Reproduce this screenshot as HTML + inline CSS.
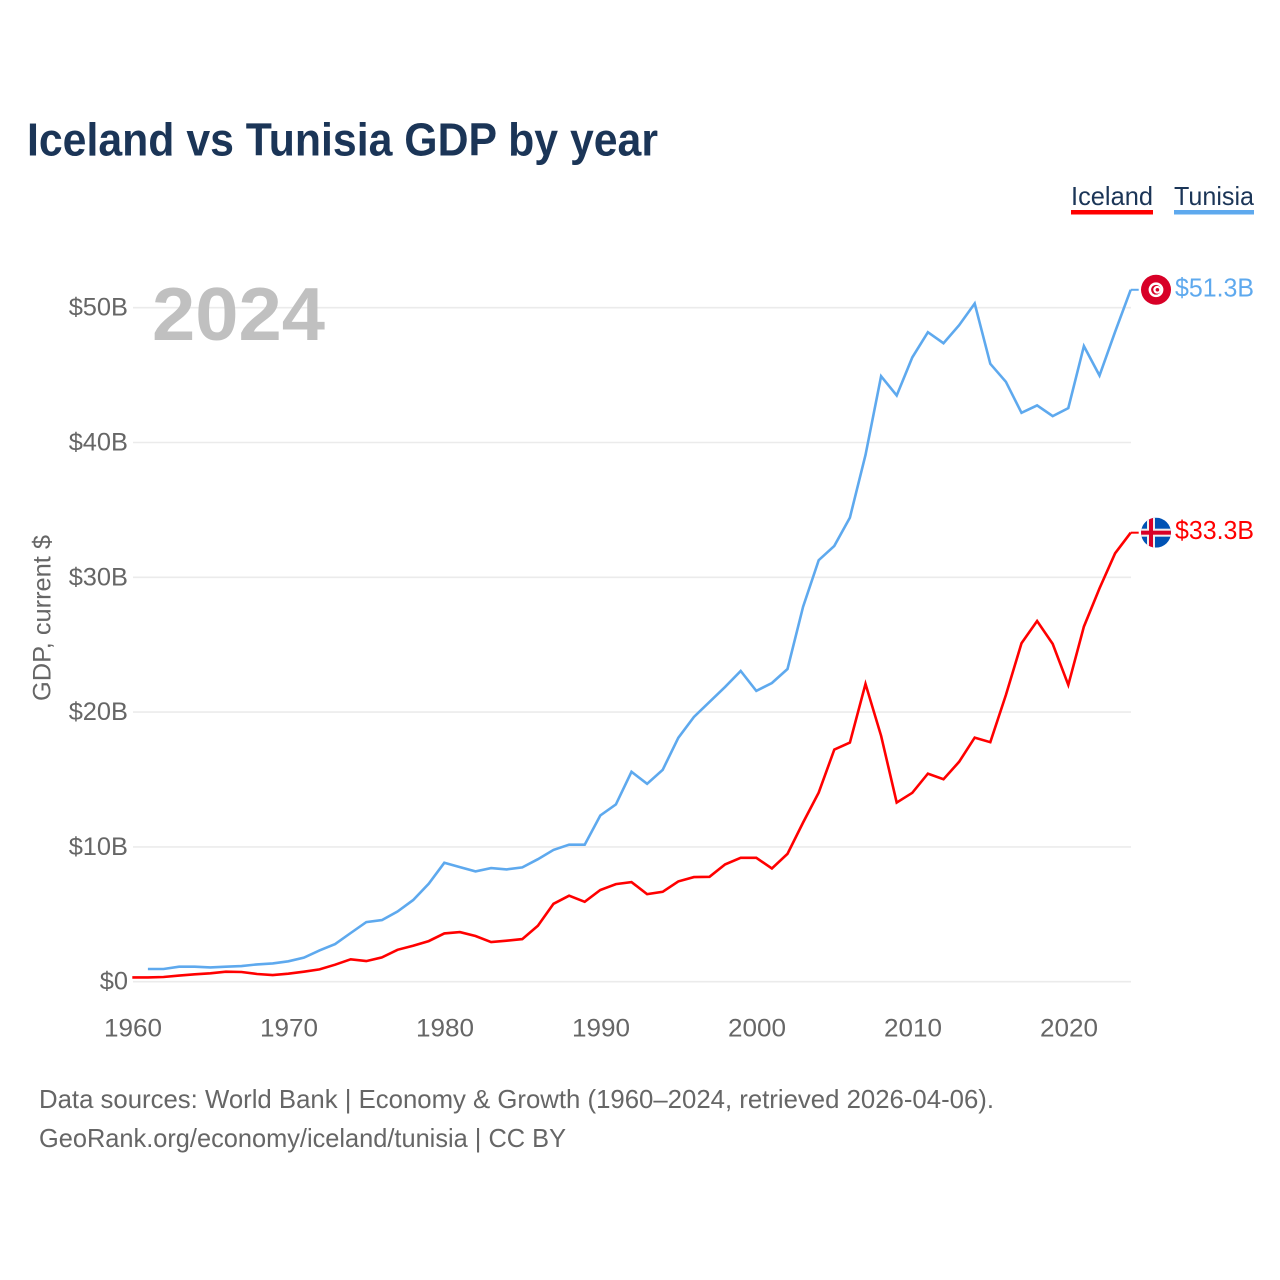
<!DOCTYPE html>
<html lang="en">
<head>
<meta charset="utf-8">
<title>Iceland vs Tunisia GDP by year</title>
<style>
html,body{margin:0;padding:0;background:#fff;width:1280px;height:1280px;overflow:hidden}
svg{display:block;font-family:"Liberation Sans",sans-serif}
</style>
</head>
<body>
<svg id="chart" width="1280" height="1280" viewBox="0 0 1280 1280" xmlns="http://www.w3.org/2000/svg">
  <rect width="1280" height="1280" fill="#fff"/>
  <text x="27" y="155.5" font-size="46" font-weight="700" fill="#1b3557" textLength="631" lengthAdjust="spacingAndGlyphs">Iceland vs Tunisia GDP by year</text>
  <g id="grid"></g>
  <text x="152" y="340" font-size="75" font-weight="700" fill="#c0c0c0" textLength="173" lengthAdjust="spacingAndGlyphs">2024</text>
  <g id="yticks"></g>
  <g id="xticks"></g>
  <text transform="translate(50.5,701) rotate(-90)" font-size="25" fill="#666" textLength="166" lengthAdjust="spacingAndGlyphs">GDP, current $</text>
  <g id="series"></g>

  <g>
    <g>
      <text x="1071" y="205" font-size="26" fill="#1b3557" textLength="82" lengthAdjust="spacingAndGlyphs">Iceland</text>
      <rect x="1071" y="210" width="82" height="4.5" fill="#ff0000"/>
    </g>
    <g>
      <text x="1174" y="205" font-size="26" fill="#1b3557" textLength="80" lengthAdjust="spacingAndGlyphs">Tunisia</text>
      <rect x="1174" y="210" width="80" height="4.5" fill="#5ea9ee"/>
    </g>
  </g>

  <g id="flag-tunisia">
    <circle cx="0" cy="0" r="15" fill="#d80027"/>
    <circle cx="0" cy="0" r="7.4" fill="#fff"/>
    <circle cx="0" cy="0" r="4.9" fill="#d80027"/>
    <circle cx="1.2" cy="0" r="3.9" fill="#fff"/>
    <circle cx="1.4" cy="0" r="1.8" fill="#d80027"/>
  </g>
  <g id="flag-iceland">
    <clipPath id="ic-clip"><circle cx="0" cy="0" r="15"/></clipPath>
    <g clip-path="url(#ic-clip)">
      <rect x="-15" y="-15" width="30" height="30" fill="#0052b4"/>
      <rect x="-9" y="-15" width="8" height="30" fill="#f0f0f0"/>
      <rect x="-15" y="-4" width="30" height="8" fill="#f0f0f0"/>
      <rect x="-7" y="-15" width="4" height="30" fill="#d80027"/>
      <rect x="-15" y="-2" width="30" height="4" fill="#d80027"/>
    </g>
  </g>
  <text id="value-tunisia" x="1175" font-size="26" fill="#5ea9ee" textLength="79" lengthAdjust="spacingAndGlyphs"></text>
  <text id="value-iceland" x="1175" font-size="26" fill="#ff0000" textLength="79" lengthAdjust="spacingAndGlyphs"></text>

  <text x="39" y="1108" font-size="26" fill="#666" textLength="955" lengthAdjust="spacingAndGlyphs">Data sources: World Bank | Economy &amp; Growth (1960–2024, retrieved 2026-04-06).</text>
  <text x="39" y="1147" font-size="26" fill="#666" textLength="527" lengthAdjust="spacingAndGlyphs">GeoRank.org/economy/iceland/tunisia | CC BY</text>
</svg>
<script>
const startYear = 1960;
const icelandGdp = [0.32,0.32,0.35,0.45,0.55,0.62,0.74,0.72,0.57,0.49,0.59,0.74,0.91,1.26,1.66,1.53,1.80,2.37,2.67,3.01,3.58,3.68,3.39,2.94,3.04,3.16,4.15,5.78,6.38,5.93,6.80,7.24,7.39,6.50,6.67,7.44,7.76,7.78,8.70,9.19,9.19,8.40,9.49,11.81,14.03,17.22,17.74,22.09,18.24,13.29,14.01,15.44,15.02,16.31,18.11,17.77,21.27,25.11,26.76,25.06,22.02,26.34,29.18,31.78,33.31];
const tunisiaGdp = [null,0.94,0.94,1.11,1.11,1.06,1.11,1.16,1.28,1.36,1.51,1.78,2.32,2.79,3.61,4.42,4.57,5.21,6.05,7.26,8.82,8.50,8.18,8.43,8.33,8.48,9.09,9.78,10.16,10.16,12.33,13.15,15.57,14.68,15.72,18.09,19.64,20.76,21.87,23.05,21.57,22.16,23.20,27.82,31.27,32.33,34.43,39.07,44.92,43.49,46.31,48.18,47.37,48.70,50.31,45.84,44.50,42.20,42.75,41.96,42.55,47.15,44.97,48.21,51.33];
const yTickValues = [0,10,20,30,40,50];
const yTickLabels = ["$0","$10B","$20B","$30B","$40B","$50B"];
const xTickValues = [1960,1970,1980,1990,2000,2010,2020];

const SVG_NS = "http://www.w3.org/2000/svg";
function xScale(year){ return 132.3 + (year - 1960) * 15.6; }
function yScale(v){ return 981.7 - v * 13.48; }
function make(tag, attrs, parent){
  const el = document.createElementNS(SVG_NS, tag);
  for (const k in attrs) el.setAttribute(k, attrs[k]);
  parent.appendChild(el);
  return el;
}

const grid = document.getElementById("grid");
const yticks = document.getElementById("yticks");
const xticks = document.getElementById("xticks");
const seriesGroup = document.getElementById("series");

yTickValues.forEach(function(v, i){
  const line = make("line", {x1:133, x2:1131, y1:yScale(v), y2:yScale(v), stroke:"#ebebeb", "stroke-width":1.6}, grid);
  
  
  const label = make("text", {x:128, y:yScale(v)+8, "text-anchor":"end", "font-size":25.4, fill:"#666"}, yticks);
  
  
  label.textContent = yTickLabels[i];
});

xTickValues.forEach(function(year){
  const label = make("text", {x:xScale(year)+0.7, y:1036.5, "text-anchor":"middle", "font-size":25, fill:"#666", textLength:58, lengthAdjust:"spacingAndGlyphs"}, xticks);
  
  
  label.textContent = String(year);
});

function drawSeries(values, color, flagId, labelId){
  const pts = [];
  values.forEach(function(v, i){
    if (v !== null) pts.push([xScale(startYear + i), yScale(v)]);
  });
  const last = pts[pts.length - 1];
  const d = pts.map(function(p){ return p[0].toFixed(1) + "," + p[1].toFixed(1); }).join(" ");
  return {d:d, last:last, color:color, flagId:flagId, labelId:labelId, value:values[values.length - 1]};
}

const tunisiaSeries = drawSeries(tunisiaGdp, "#5ea9ee", "flag-tunisia", "value-tunisia");
const icelandSeries = drawSeries(icelandGdp, "#ff0000", "flag-iceland", "value-iceland");

const tunisiaLine = make("polyline", {points:tunisiaSeries.d, fill:"none", stroke:tunisiaSeries.color, "stroke-width":2.6, "stroke-linejoin":"miter"}, seriesGroup);


const icelandLine = make("polyline", {points:icelandSeries.d, fill:"none", stroke:icelandSeries.color, "stroke-width":2.6, "stroke-linejoin":"miter"}, seriesGroup);



const tunisiaStub = make("line", {x1:tunisiaSeries.last[0], x2:tunisiaSeries.last[0]+8, y1:tunisiaSeries.last[1], y2:tunisiaSeries.last[1], stroke:tunisiaSeries.color, "stroke-width":2}, seriesGroup);


const icelandStub = make("line", {x1:icelandSeries.last[0], x2:icelandSeries.last[0]+8, y1:icelandSeries.last[1], y2:icelandSeries.last[1], stroke:icelandSeries.color, "stroke-width":2}, seriesGroup);



[tunisiaSeries, icelandSeries].forEach(function(s){
  document.getElementById(s.flagId).setAttribute("transform", "translate(1156," + s.last[1] + ")");
  const t = document.getElementById(s.labelId);
  t.setAttribute("y", s.last[1] + 6.5);
  t.textContent = "$" + s.value.toFixed(1) + "B";
});
</script>
</body>
</html>
